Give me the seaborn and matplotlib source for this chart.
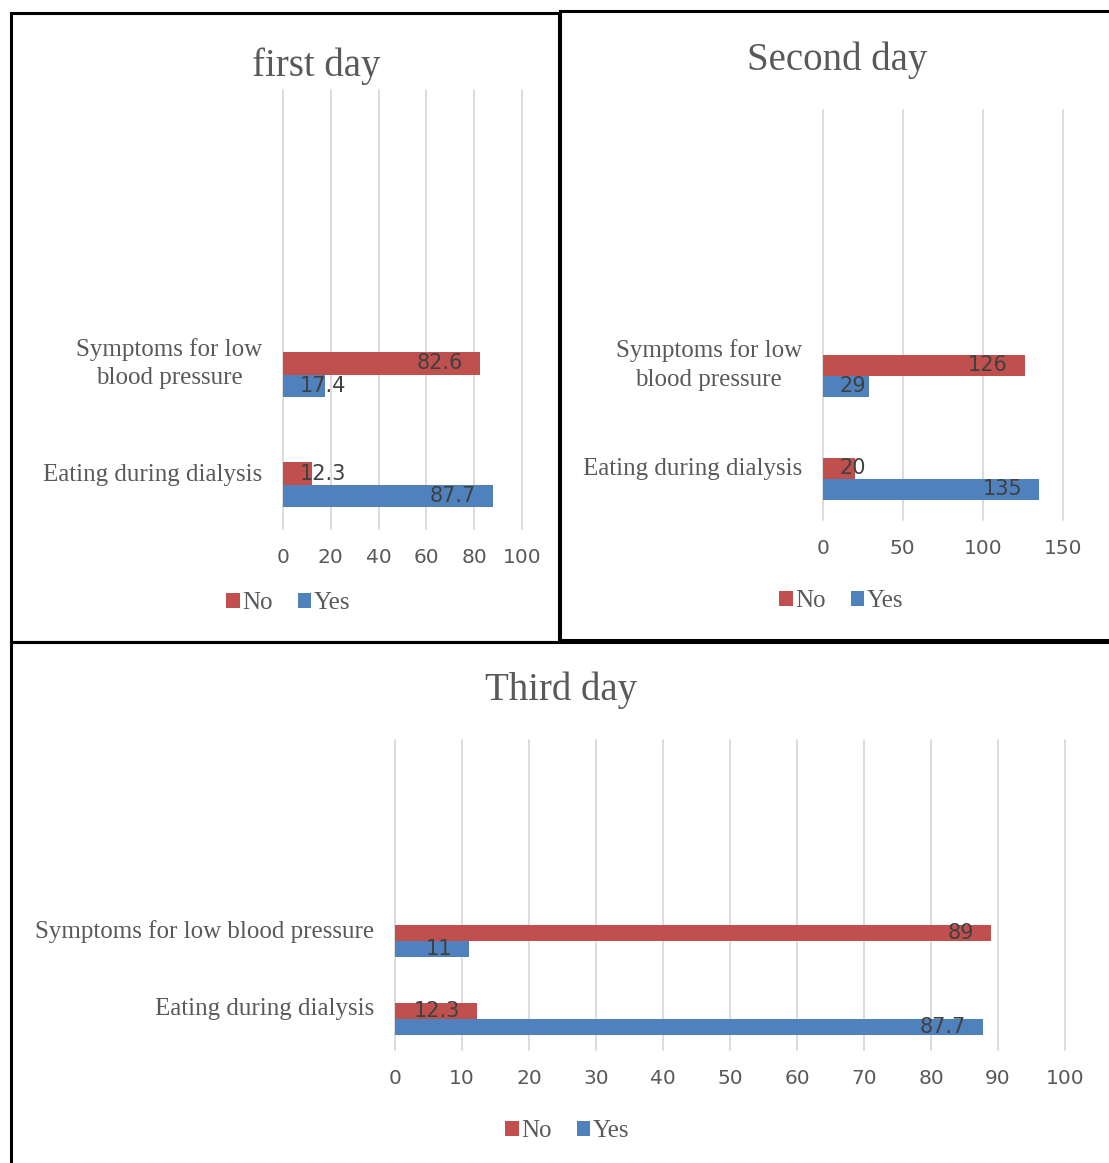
import matplotlib
matplotlib.use("Agg")
import matplotlib.pyplot as plt
import numpy as np
import pandas as pd
import seaborn as sns
from matplotlib.patches import Rectangle, Patch
from matplotlib.transforms import ScaledTranslation

# ---- data -------------------------------------------------------------
categories = ["Symptoms for low blood pressure", "Eating during dialysis"]
wrapped_labels = ["Symptoms for low\nblood pressure", "Eating during dialysis"]
responses = ["No", "Yes"]

day1_no = [82.6, 12.3]
day1_yes = [17.4, 87.7]
day2_no = [126, 20]
day2_yes = [29, 135]
day3_no = [89, 12.3]
day3_yes = [11, 87.7]

titles = ["first day", "Second day", "Third day"]
day1_ticks = [0, 20, 40, 60, 80, 100]
day2_ticks = [0, 50, 100, 150]
day3_ticks = [0, 10, 20, 30, 40, 50, 60, 70, 80, 90, 100]

# ---- style ------------------------------------------------------------
sns.set_style("white")
plt.rcParams["font.family"] = ["DejaVu Sans"]
SERIF = ["Liberation Serif", "DejaVu Serif"]
SANS = ["DejaVu Sans"]
RED, BLUE = "#C0504D", "#4F81BD"
TEXT = "#595959"
LABEL = "#404040"
GRID = "#D9D9D9"

W, H = 1109, 1163
fig = plt.figure(figsize=(W / 100, H / 100), dpi=100)
fig.patch.set_facecolor("white")


def fx(x):
    return x / W


def fy(y):
    return 1 - y / H


def add_axes_px(left, top, right, bottom):
    return fig.add_axes([fx(left), fy(bottom), (right - left) / W, (bottom - top) / H])


def frame_px(left, top, right, bottom, lw=2.2):
    fig.add_artist(Rectangle((fx(left), fy(bottom)), (right - left) / W, (bottom - top) / H,
                             transform=fig.transFigure, fill=False, edgecolor="black",
                             linewidth=lw, zorder=10))


panels = [
    dict(no=day1_no, yes=day1_yes, labels=wrapped_labels, ticks=day1_ticks, title=titles[0],
         rect=(283, 90, 522, 529), title_xy=(316, 76), legend_xy=(288, 603)),
    dict(no=day2_no, yes=day2_yes, labels=wrapped_labels, ticks=day2_ticks, title=titles[1],
         rect=(822.7, 110, 1063, 520), title_xy=(837, 70), legend_xy=(841, 601)),
    dict(no=day3_no, yes=day3_yes, labels=categories, ticks=day3_ticks, title=titles[2],
         rect=(395, 739.5, 1065, 1050), title_xy=(561, 700), legend_xy=(567, 1131)),
]

renderer = fig.canvas.get_renderer()

for p in panels:
    df = pd.DataFrame({
        "category": categories * 2,
        "response": ["No"] * len(categories) + ["Yes"] * len(categories),
        "value": list(p["no"]) + list(p["yes"]),
    })
    ax = add_axes_px(*p["rect"])
    sns.barplot(data=df, x="value", y="category", hue="response", order=categories,
                hue_order=responses, palette={"No": RED, "Yes": BLUE}, orient="h",
                width=0.41, saturation=1, errorbar=None, linewidth=0, legend=False, ax=ax)

    ax.set_xlim(0, p["ticks"][-1])
    ax.set_ylim(1.40, -2.58)
    ax.set_xticks(p["ticks"])
    ax.set_xticklabels([str(t) for t in p["ticks"]], fontfamily=SANS, fontsize=14.5, color=TEXT)
    ax.set_yticks(range(len(categories)))
    ax.set_yticklabels(p["labels"], fontfamily=SERIF, fontsize=18, color=TEXT,
                       multialignment="center", linespacing=1.4)
    ax.set_xlabel("")
    ax.set_ylabel("")
    ax.tick_params(axis="x", length=0, pad=14)
    ax.tick_params(axis="y", length=0, pad=15)
    for s in ax.spines.values():
        s.set_visible(False)
    ax.set_axisbelow(True)
    ax.grid(axis="x", color=GRID, linewidth=1.3)
    ax.grid(axis="y", visible=False)
    for gl in ax.get_xgridlines():
        gl.set_clip_on(False)
    # category labels sit slightly above the centre of their bar pair
    for lab in ax.get_yticklabels():
        up = 17 if "\n" in lab.get_text() else 12
        lab.set_transform(lab.get_transform()
                          + ScaledTranslation(0, up / 100, fig.dpi_scale_trans))

    # value labels at the inside end of each bar
    for container in ax.containers:
        for bar in container:
            val = bar.get_width()
            yc = bar.get_y() + bar.get_height() / 2
            t = ax.annotate(f"{val:g}", xy=(val, yc), xytext=(-17 * 0.72, 0),
                            textcoords="offset points", ha="right", va="center",
                            fontfamily=SANS, fontsize=15, color=LABEL)
            bb = t.get_window_extent(renderer)
            base = ax.transData.transform((0, yc))[0]
            if bb.x0 < base + 16:
                t.xy = (0, yc)
                t.set_position((17 * 0.72, 0))
                t.set_ha("left")

    fig.text(fx(p["title_xy"][0]), fy(p["title_xy"][1]), p["title"], ha="center",
             va="baseline", fontfamily=SERIF, fontsize=28, color=TEXT)

    handles = [Patch(facecolor=RED, edgecolor="none"), Patch(facecolor=BLUE, edgecolor="none")]
    fig.legend(handles, responses, loc="center",
               bbox_to_anchor=(fx(p["legend_xy"][0]), fy(p["legend_xy"][1])),
               ncol=2, frameon=False, handlelength=0.55, handleheight=0.55,
               handletextpad=0.1, columnspacing=1.0,
               prop={"family": SERIF, "size": 18}, labelcolor=TEXT)

# panel frames
frame_px(10.5, 13, 558.5, 642)
frame_px(559.5, 11, 1114, 639.5)
frame_px(11, 641.5, 1114, 1170)

fig.savefig("out.png", dpi=100, facecolor="white")
